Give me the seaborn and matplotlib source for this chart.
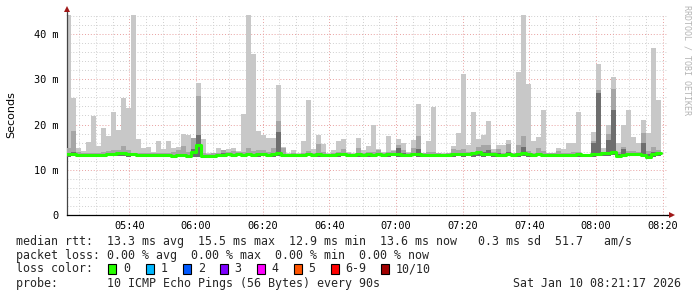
import numpy as np
import pandas as pd
import matplotlib
matplotlib.use("Agg")
import matplotlib.pyplot as plt
from matplotlib.patches import Rectangle
import seaborn as sns

# ---------------- data (milliseconds, one value per 90 s bin) ----------------
bin_start_min = 321.0          # first bin starts 05:21:00 (minutes after midnight)
bin_step_min = 1.5             # 90 s
view_start_min = 321.0 + 17 / 60.0   # 05:21:17
view_span_min = 180.0

max_rtt = [
    44.3, 25.9, 14.8, 14.2, 16.1, 21.9, 15.2, 19.2, 17.5, 22.8,
    18.8, 25.9, 23.6, 44.3, 16.9, 14.8, 15.1, 14.0, 16.4, 14.5,
    16.3, 14.8, 15.1, 17.9, 17.7, 17.0, 29.2, 16.8, 13.6, 13.8,
    14.8, 14.2, 14.5, 14.8, 14.2, 22.3, 44.3, 35.6, 18.6, 17.7,
    17.0, 17.0, 28.7, 15.0, 13.6, 14.4, 13.8, 16.3, 25.4, 14.5,
    17.7, 15.8, 13.8, 14.4, 16.3, 16.8, 14.0, 13.8, 17.0, 14.4,
    15.2, 20.0, 14.5, 14.0, 17.5, 14.4, 16.8, 15.9, 13.9, 16.6,
    24.5, 13.8, 16.3, 23.9, 13.6, 13.6, 13.6, 15.2, 18.1, 31.2,
    15.5, 22.8, 16.8, 17.7, 20.7, 14.5, 15.5, 15.5, 16.5, 13.8,
    31.6, 44.3, 29.0, 16.3, 17.3, 23.2, 13.8, 13.6, 14.8, 14.5,
    15.9, 16.0, 22.8, 13.5, 13.5, 18.3, 33.4, 14.8, 20.0, 30.5,
    15.9, 19.8, 23.3, 17.3, 15.9, 21.0, 18.2, 36.9, 25.4,
]

mid_rtt = [
    14.8, 18.5, 13.9, 13.6, 13.6, 13.8, 13.8, 14.0, 14.2, 14.3,
    14.4, 15.3, 14.4, 13.8, 13.8, 13.7, 13.8, 13.6, 13.8, 13.6,
    13.8, 14.0, 14.3, 15.3, 13.9, 17.0, 26.2, 13.6, 13.4, 13.6,
    13.7, 14.3, 14.0, 14.1, 14.0, 14.0, 14.9, 14.2, 14.3, 14.3,
    13.9, 14.8, 20.7, 14.8, 13.4, 13.8, 13.5, 13.6, 14.2, 13.8,
    15.8, 14.0, 13.5, 13.8, 13.9, 14.6, 13.8, 13.4, 14.9, 13.8,
    14.0, 13.9, 14.3, 13.8, 14.0, 14.1, 15.5, 14.3, 13.7, 14.8,
    17.4, 13.6, 13.9, 14.0, 13.6, 13.5, 13.7, 14.5, 14.3, 14.6,
    14.0, 14.0, 15.0, 15.4, 15.4, 13.9, 14.6, 13.8, 15.6, 13.6,
    15.5, 17.5, 14.2, 13.8, 14.9, 14.1, 13.7, 13.6, 14.1, 13.8,
    13.8, 13.9, 13.9, 13.3, 13.4, 16.4, 27.7, 14.0, 18.0, 27.9,
    14.0, 15.0, 14.2, 14.2, 14.0, 18.2, 14.2, 15.0, 14.4,
]

dark_rtt = [
    13.8, 13.9, 13.4, 13.3, 13.3, 13.4, 13.4, 13.5, 13.6, 13.6,
    13.8, 13.9, 13.6, 13.6, 13.4, 13.4, 13.3, 13.3, 13.4, 13.3,
    13.4, 13.3, 13.5, 13.4, 13.3, 14.5, 17.7, 13.2, 13.1, 13.3,
    13.4, 13.6, 13.6, 13.5, 13.6, 13.5, 13.6, 13.5, 13.6, 13.6,
    13.5, 13.7, 18.3, 13.5, 13.3, 13.5, 13.3, 13.3, 13.6, 13.4,
    13.8, 13.5, 13.3, 13.5, 13.6, 13.7, 13.5, 13.3, 13.8, 13.4,
    13.6, 13.5, 13.7, 13.5, 13.6, 13.6, 14.8, 13.6, 13.4, 13.8,
    14.6, 13.4, 13.5, 13.5, 13.3, 13.3, 13.4, 13.8, 13.6, 13.7,
    13.6, 13.7, 14.2, 14.0, 14.3, 13.6, 13.7, 13.4, 14.0, 13.4,
    13.8, 15.0, 13.7, 13.5, 13.8, 13.5, 13.4, 13.4, 13.5, 13.5,
    13.5, 13.5, 13.6, 13.3, 13.3, 16.0, 27.0, 13.8, 16.5, 23.3,
    13.5, 14.5, 13.7, 13.6, 13.7, 16.0, 13.5, 14.0, 13.8,
]

median_rtt = [
    13.5, 13.5, 13.2, 13.2, 13.2, 13.3, 13.2, 13.3, 13.4, 13.4,
    13.6, 13.7, 13.4, 13.5, 13.3, 13.3, 13.2, 13.2, 13.3, 13.2,
    13.2, 13.1, 13.2, 13.2, 13.1, 13.9, 15.5, 13.0, 13.0, 13.1,
    13.3, 13.3, 13.4, 13.3, 13.4, 13.3, 13.4, 13.3, 13.4, 13.4,
    13.3, 13.4, 13.6, 13.2, 13.2, 13.3, 13.2, 13.2, 13.4, 13.2,
    13.4, 13.3, 13.2, 13.3, 13.4, 13.4, 13.3, 13.2, 13.4, 13.2,
    13.4, 13.3, 13.4, 13.3, 13.4, 13.4, 13.5, 13.3, 13.3, 13.5,
    13.5, 13.3, 13.3, 13.3, 13.2, 13.2, 13.3, 13.4, 13.4, 13.5,
    13.4, 13.6, 13.9, 13.4, 13.4, 13.4, 13.2, 13.3, 13.4, 13.3,
    13.5, 13.6, 13.5, 13.3, 13.4, 13.3, 13.3, 13.3, 13.2, 13.3,
    13.3, 13.3, 13.4, 13.3, 13.2, 13.4, 13.5, 13.6, 13.6, 13.9,
    13.1, 13.3, 13.4, 13.4, 13.5, 13.3, 12.9, 13.5, 13.6,
]

min_rtt = [
    12.9, 13.0, 12.9, 12.9, 12.8, 12.9, 12.9, 12.9, 13.0, 13.0,
    13.1, 13.0, 12.9, 13.0, 12.9, 12.9, 12.8, 12.9, 12.9, 12.8,
    12.8, 12.8, 12.8, 12.8, 12.8, 12.9, 12.9, 12.7, 12.8, 12.8,
    12.9, 12.9, 13.0, 12.9, 13.0, 12.9, 13.0, 12.9, 12.9, 13.0,
    12.9, 12.9, 13.0, 12.9, 12.9, 12.9, 12.8, 12.9, 13.0, 12.9,
    12.9, 12.9, 12.8, 12.9, 12.9, 13.0, 12.9, 12.9, 12.9, 12.8,
    12.9, 12.9, 13.0, 12.9, 12.9, 13.0, 12.8, 12.9, 12.9, 13.0,
    12.9, 12.9, 12.9, 12.9, 12.8, 12.9, 12.9, 12.9, 13.0, 12.9,
    13.0, 12.9, 13.0, 12.9, 13.0, 12.9, 12.8, 12.9, 13.0, 12.9,
    12.9, 13.0, 12.9, 12.9, 13.0, 12.9, 12.9, 12.9, 12.8, 12.9,
    12.9, 12.8, 12.9, 12.9, 12.8, 12.9, 13.0, 13.1, 13.1, 13.2,
    12.8, 12.9, 13.0, 13.0, 13.0, 12.9, 12.6, 12.9, 13.0,
]

x_tick_minutes = [340, 360, 380, 400, 420, 440, 460, 480, 500]
x_tick_labels = ["05:40", "06:00", "06:20", "06:40", "07:00", "07:20", "07:40", "08:00", "08:20"]
y_tick_values = [0, 10, 20, 30, 40]
y_tick_labels = ["0", "10 m", "20 m", "30 m", "40 m"]

loss_labels = ["0", "1", "2", "3", "4", "5", "6-9", "10/10"]
loss_colors = ["#26ff00", "#00b8ff", "#0059ff", "#7e00ff", "#ff00ff", "#ff5500", "#ff0000", "#a10000"]

legend_lines = [
    "median rtt:  13.3 ms avg  15.5 ms max  12.9 ms min  13.6 ms now   0.3 ms sd  51.7   am/s",
    "packet loss: 0.00 % avg  0.00 % max  0.00 % min  0.00 % now",
]
probe_text = "probe:       10 ICMP Echo Pings (56 Bytes) every 90s"
date_text = "Sat Jan 10 08:21:17 2026"

# ---------------- figure ----------------
sns.set_style("white")
plt.rcParams["font.family"] = ["DejaVu Sans Mono", "DejaVu Sans"]

W, H = 697, 297
fig = plt.figure(figsize=(W / 100, H / 100), dpi=100, facecolor="white")
ax = fig.add_axes([67 / W, 82 / H, 600 / W, 200 / H], facecolor="white")

n = len(max_rtt)
df = pd.DataFrame({
    "t": bin_start_min + bin_step_min * np.arange(n),
    "max": max_rtt, "mid": mid_rtt, "dark": dark_rtt,
    "median": median_rtt, "min": min_rtt,
})

ax.bar(df["t"], df["max"] - df["min"], bottom=df["min"], width=bin_step_min,
       align="edge", color="#c8c8c8", linewidth=0, zorder=2)
ax.bar(df["t"], df["mid"] - df["min"], bottom=df["min"], width=bin_step_min,
       align="edge", color="#a6a6a6", linewidth=0, zorder=3)
ax.bar(df["t"], df["dark"] - df["min"], bottom=df["min"], width=bin_step_min,
       align="edge", color="#6e6e6e", linewidth=0, zorder=4)

step_df = pd.DataFrame({
    "t": list(df["t"]) + [df["t"].iloc[-1] + bin_step_min],
    "median": median_rtt + [median_rtt[-1]],
})
sns.lineplot(data=step_df, x="t", y="median", drawstyle="steps-post",
             color="#22ff00", linewidth=2.2, ax=ax, zorder=5)

ax.set_xlim(view_start_min, view_start_min + view_span_min)
ax.set_ylim(0, 44.2)
ax.set_xlabel("")
ax.set_ylabel("")

# grid
ax.set_xticks(x_tick_minutes)
ax.set_xticklabels(x_tick_labels)
ax.set_xticks(np.arange(325, 505, 5), minor=True)
ax.set_yticks(y_tick_values)
ax.set_yticklabels(y_tick_labels)
ax.set_yticks(np.arange(0, 46, 2), minor=True)
ax.grid(which="minor", color="#cfcfcf", linestyle=(0, (1, 2)), linewidth=0.7, zorder=1)
ax.grid(which="major", color="#e8a0a0", linestyle=(0, (1, 2)), linewidth=0.7, zorder=1)
ax.set_axisbelow(True)

ax.tick_params(axis="x", which="major", length=3, width=0.7, color="#000000",
               labelsize=7.4, pad=1.5, labelcolor="#000000")
ax.tick_params(axis="x", which="minor", length=2, width=0.7, color="#000000")
ax.tick_params(axis="y", which="major", length=2, width=0.7, color="#000000",
               labelsize=7.4, pad=4, labelcolor="#000000")
ax.tick_params(axis="y", which="minor", length=0)

for s in ["top", "right"]:
    ax.spines[s].set_visible(False)
ax.spines["left"].set_color("#444444")
ax.spines["bottom"].set_color("#000000")
ax.spines["left"].set_linewidth(0.9)
ax.spines["bottom"].set_linewidth(0.9)

# axis extensions + arrows
ax.plot([1.0, 1.008], [0, 0], transform=ax.transAxes, color="#000000", lw=0.9, clip_on=False)
ax.plot([0, 0], [1.0, 1.02], transform=ax.transAxes, color="#444444", lw=0.9, clip_on=False)
ax.plot([1.008], [0], transform=ax.transAxes, marker=">", color="#a01818", ms=4,
        clip_on=False, markeredgewidth=0)
ax.plot([0], [1.03], transform=ax.transAxes, marker="^", color="#a01818", ms=4,
        clip_on=False, markeredgewidth=0)

# axis label and watermark
fig.text(11 / W, 1 - 115 / H, "Seconds", rotation=90, ha="center", va="center",
         fontsize=8, family="DejaVu Sans", color="#000000")
fig.text(687 / W, 1 - 60 / H, "RRDTOOL / TOBI OETIKER", rotation=270, ha="center",
         va="center", fontsize=6, color="#b4b4b4", family="DejaVu Sans Mono")

# legend area
fs = 8.4
fig.text(16 / W, 1 - 241.3 / H, legend_lines[0], ha="left", va="center", fontsize=fs)
fig.text(16 / W, 1 - 255.3 / H, legend_lines[1], ha="left", va="center", fontsize=fs)
fig.text(16 / W, 1 - 268.7 / H, "loss color:", ha="left", va="center", fontsize=fs)
box_x = [108, 145.7, 182.7, 219.7, 256.7, 293.7, 330.7, 381.0]
for bx, lab, col in zip(box_x, loss_labels, loss_colors):
    fig.add_artist(Rectangle((bx / W, 1 - 273.7 / H), 8 / W, 10 / H,
                             transform=fig.transFigure, facecolor=col,
                             edgecolor="#000000", linewidth=0.8))
    fig.text((bx + 15) / W, 1 - 268.7 / H, lab, ha="left", va="center", fontsize=fs)
fig.text(16 / W, 1 - 283.5 / H, probe_text, ha="left", va="center", fontsize=fs)
fig.text(681 / W, 1 - 283.5 / H, date_text, ha="right", va="center", fontsize=fs)

fig.savefig("out.png", dpi=100, facecolor="white")
